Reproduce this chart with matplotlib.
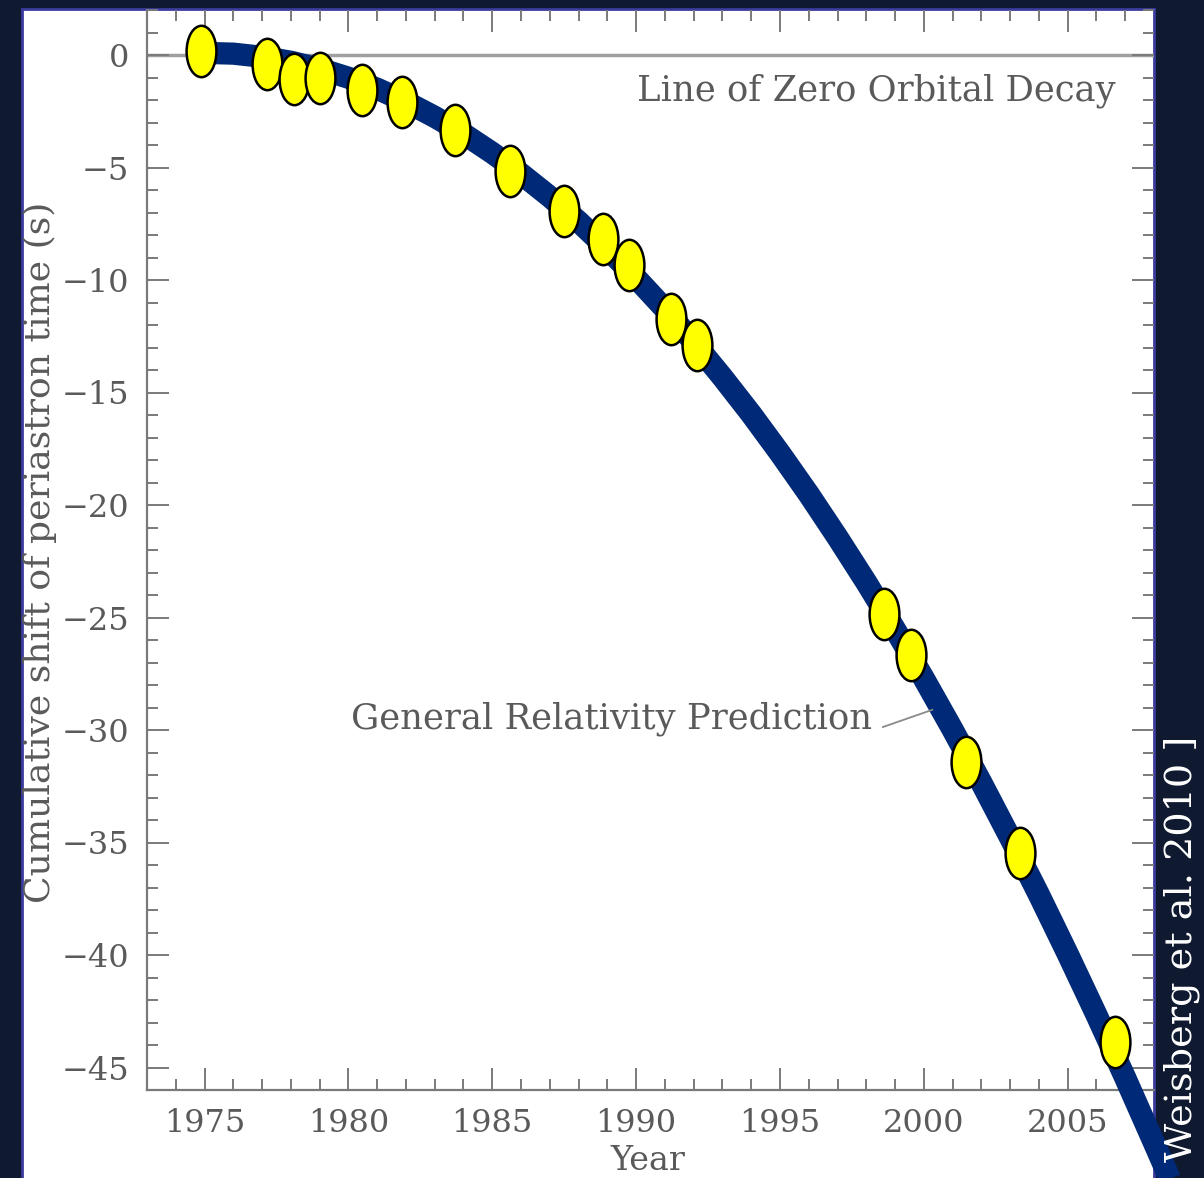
import matplotlib.pyplot as plt
from matplotlib.path import Path
from matplotlib.transforms import Affine2D
from matplotlib.patches import Rectangle

# measured timing points (year, cumulative shift in s)
obs_year = [1974.86, 1977.16, 1978.1, 1979.03, 1980.46, 1981.85, 1983.72, 1985.6,
            1987.48, 1988.84, 1989.77, 1991.2, 1992.13, 1998.63, 1999.57, 2001.45,
            2003.33, 2006.63]
obs_shift = [0.18, -0.4, -1.07, -1.02, -1.55, -2.09, -3.33, -5.15,
             -6.92, -8.17, -9.32, -11.72, -12.87, -24.86, -26.68, -31.43,
             -35.46, -43.85]

# GR prediction curve
gr_year = [1974.86, 1976, 1977, 1978, 1979, 1980, 1981, 1982, 1983, 1984, 1985,
           1986, 1987, 1988, 1989, 1990, 1991, 1992, 1993, 1994, 1995, 1996,
           1997, 1998, 1999, 2000, 2001, 2002, 2003, 2004, 2005, 2006, 2007,
           2008, 2008.6]
gr_shift = [0.1, 0.06, -0.08, -0.3, -0.61, -1.01, -1.5, -2.08, -2.75, -3.5, -4.35,
            -5.28, -6.3, -7.4, -8.62, -9.91, -11.29, -12.76, -14.32, -15.96, -17.7, -19.52,
            -21.44, -23.44, -25.53, -27.71, -29.98, -32.34, -34.79, -37.32, -39.95, -42.66, -45.46,
            -48.35, -50.1]

gray_txt = "#5a5a5a"
gray_ax = "#7a7a7a"
font = "DejaVu Serif"

fig = plt.figure(figsize=(12.04, 11.78), dpi=100, facecolor="#0f1a31")

# white slide panel behind the plot
panel = Rectangle((22 / 1204, -0.01), (1154 - 22) / 1204, 1 - 9 / 1178 + 0.01,
                  transform=fig.transFigure, facecolor="white",
                  edgecolor="#3b3b9e", linewidth=2, zorder=-10)
fig.patches.append(panel)

ax = fig.add_axes([147 / 1204, 1 - 1090 / 1178, (1154 - 147) / 1204, (1090 - 10) / 1178])
ax.set_facecolor("none")
ax.set_xlim(1973, 2008)
ax.set_ylim(-46, 2)

ax.axhline(0, color="#a0a0a0", lw=2.5, zorder=1)

ax.plot(gr_year, gr_shift, color="#002a78", lw=16, solid_capstyle="butt",
        solid_joinstyle="round", clip_on=False, zorder=3)

ell = Path.unit_circle().transformed(Affine2D().scale(0.58, 1.0))
ax.plot(obs_year, obs_shift, ls="none", marker=ell, markersize=37,
        markerfacecolor="#ffff00", markeredgecolor="black", markeredgewidth=1.8,
        clip_on=False, zorder=4)

for s in ["top", "right"]:
    ax.spines[s].set_visible(False)
for s in ["left", "bottom"]:
    ax.spines[s].set_color(gray_ax)
    ax.spines[s].set_linewidth(1.6)

ax.set_xticks(range(1975, 2006, 5))
ax.set_xticks(range(1974, 2008), minor=True)
ax.set_yticks(range(-45, 1, 5))
ax.set_yticks(range(-46, 3), minor=True)
ax.set_yticklabels([f"\u2212{abs(v)}" if v < 0 else str(v) for v in range(-45, 1, 5)])
ax.tick_params(which="both", direction="in", top=True, right=True, color=gray_ax,
               width=1.4, labelcolor=gray_txt, labelsize=23)
ax.tick_params(which="major", length=16, pad=13)
ax.tick_params(which="minor", length=8)
for lab in ax.get_xticklabels() + ax.get_yticklabels():
    lab.set_family(font)

ax.text(2006.66, -1.6, "Line of Zero Orbital Decay", ha="right", va="center",
        fontsize=25.5, family=font, color=gray_txt)
ax.annotate("General Relativity Prediction", xy=(2000.3, -29.1), xytext=(1998.2, -29.5),
            ha="right", va="center", fontsize=25.5, family=font, color=gray_txt,
            arrowprops=dict(arrowstyle="-", color="#8a8a8a", lw=1.3, shrinkA=6, shrinkB=0,
                            relpos=(1.0, 0.15)))

fig.text(40 / 1204, 1 - 552 / 1178, "Cumulative shift of periastron time (s)",
         rotation=90, ha="center", va="center", fontsize=26, family=font, color=gray_txt)
fig.text(648 / 1204, 1 - 1145 / 1178, "Year", ha="center", va="top",
         fontsize=24, family=font, color=gray_txt)

fig.text(1182 / 1204, 1 - 1162 / 1178, "Weisberg et al. 2010 ]", rotation=90,
         ha="center", va="bottom", fontsize=27.5, family=font, color="white")

fig.savefig("out.png", dpi=100, facecolor=fig.get_facecolor())
